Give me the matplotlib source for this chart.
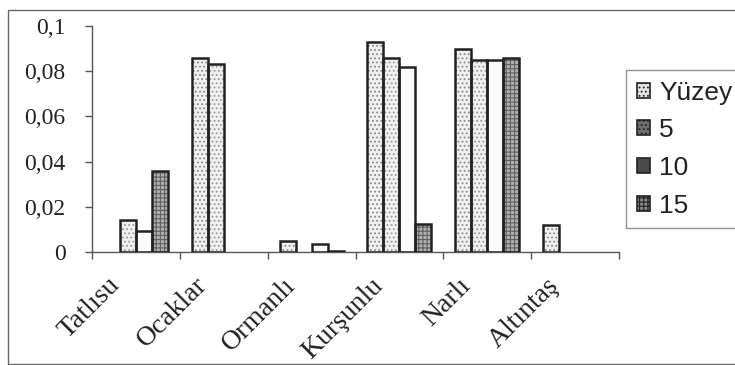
import matplotlib
matplotlib.use("Agg")
import matplotlib.pyplot as plt
import matplotlib.transforms as mtransforms
import numpy as np
from matplotlib.patches import Patch, Rectangle

# Sampling stations and depth series
stations = ["Tatlısu", "Ocaklar", "Ormanlı", "Kurşunlu", "Narlı", "Altıntaş"]
series_names = ["Yüzey", "5", "10", "15"]
nan = np.nan
yuzey = [nan, 0.086, 0.005, 0.093, 0.090, 0.012]
d5 = [0.014, 0.083, nan, 0.086, 0.085, nan]
d10 = [0.0095, nan, 0.0035, 0.082, 0.085, nan]
d15 = [0.036, nan, 0.0006, 0.0125, 0.086, nan]
yticks = [0, 0.02, 0.04, 0.06, 0.08, 0.1]
ytick_labels = ["0", "0,02", "0,04", "0,06", "0,08", "0,1"]

plt.rcParams["hatch.linewidth"] = 0.8

fig = plt.figure(figsize=(7.35, 3.65), dpi=100)
ax = fig.add_axes([0.1252, 0.3096, 0.8422 - 0.1252, 0.9288 - 0.3096])

x = np.arange(len(stations))
w = 0.182
offsets = [-1.5 * w, -0.5 * w, 0.5 * w, 1.5 * w]

# fill style of the bars: (face, hatch, hatch colour)
bar_styles = [
    ("#f0f0f0", "....", "#8a8a8a"),
    ("#f0f0f0", "....", "#9a9a9a"),
    ("#fbfbfb", "", "#ffffff"),
    ("#b0b0b0", "++++", "#606060"),
]
edge = "#222222"

for vals, off, (fc, hatch, hc) in zip([yuzey, d5, d10, d15], offsets, bar_styles):
    v = np.array(vals, dtype=float)
    ax.bar(x + off, v, width=w, color=fc, hatch=hatch, edgecolor=hc,
           linewidth=0, zorder=2)
    ax.bar(x + off, v, width=w, fill=False, edgecolor=edge,
           linewidth=1.8, zorder=3)

ax.set_xlim(-0.5, len(stations) - 0.5)
ax.set_ylim(0, 0.1)

for s in ["top", "right"]:
    ax.spines[s].set_visible(False)
for s in ["left", "bottom"]:
    ax.spines[s].set_color("#555555")
    ax.spines[s].set_linewidth(1.0)

ax.set_yticks(yticks)
ax.set_yticklabels(ytick_labels, fontfamily="Liberation Serif", fontsize=17,
                   color="#222222")
ax.tick_params(axis="y", direction="out", length=5, width=1, color="#555555",
               pad=14)

# category boundaries as ticks, names centred between them
ax.set_xticks(np.arange(-0.5, len(stations)), minor=False)
ax.set_xticklabels([])
ax.set_xticks(x, minor=True)
ax.set_xticklabels(stations, minor=True, rotation=45, ha="right",
                   rotation_mode="anchor", fontfamily="Liberation Serif",
                   fontsize=20, color="#222222")
ax.tick_params(axis="x", which="major", direction="out", length=5, width=1,
               color="#555555")
ax.tick_params(axis="x", which="minor", length=0, pad=15)
shift = mtransforms.ScaledTranslation(-29 / 100, 0, fig.dpi_scale_trans)
for lbl in ax.get_xticklabels(minor=True):
    lbl.set_transform(lbl.get_transform() + shift)

legend_styles = [
    ("#e6e6e6", "....", "#888888"),
    ("#707070", "....", "#9a9a9a"),
    ("#4a4a4a", "", "#4a4a4a"),
    ("#8a8a8a", "++++", "#5a5a5a"),
]
handles = [Patch(facecolor=fc, hatch=h, edgecolor="#222222", linewidth=1.2)
           for fc, h, hc in legend_styles]
leg = fig.legend(handles, series_names, loc="upper left",
                 bbox_to_anchor=(626 / 735, 1 - 70 / 365),
                 bbox_transform=fig.transFigure,
                 prop={"family": "Liberation Sans", "size": 19},
                 frameon=True, fancybox=False, edgecolor="#777777",
                 handlelength=0.5, handleheight=0.5, handletextpad=0.35,
                 labelspacing=0.52, borderpad=0.4, borderaxespad=0)
leg.get_frame().set_linewidth(1.0)
for t in leg.get_texts():
    t.set_color("#222222")

# outer chart frame
fig.patches.append(Rectangle((8 / 735, 1 / 365), 1.0, 354 / 365,
                             transform=fig.transFigure, fill=False,
                             edgecolor="#666666", linewidth=1.0))

fig.savefig("out.png", dpi=100)
